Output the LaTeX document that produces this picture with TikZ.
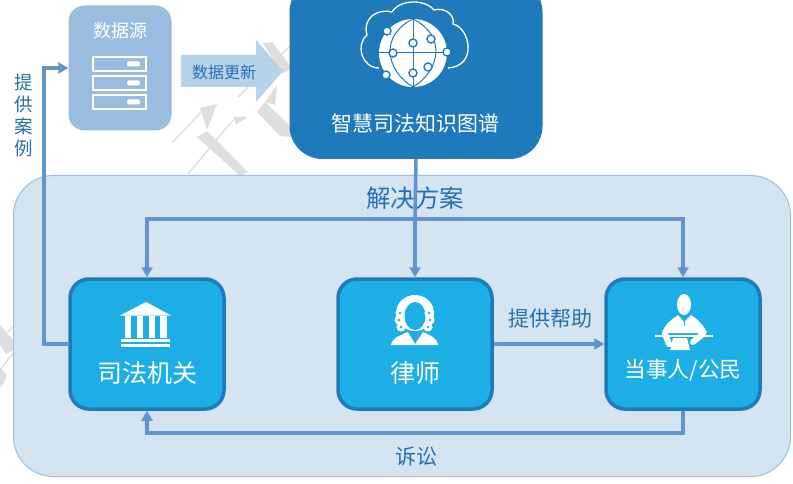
\documentclass[tikz,border=0pt]{standalone}
\usepackage{fontspec}
\setmainfont{Noto Sans CJK SC}
\usetikzlibrary{arrows.meta, positioning, calc}
\definecolor{diagPanel}{RGB}{213,228,241}
\definecolor{diagPanelEdge}{RGB}{157,190,221}
\definecolor{diagCard}{RGB}{28,174,228}
\definecolor{diagCardEdge}{RGB}{30,122,187}
\definecolor{diagSource}{RGB}{152,189,223}
\definecolor{diagGraph}{RGB}{30,122,187}
\definecolor{diagLine}{RGB}{98,148,206}
\definecolor{diagFat}{RGB}{183,211,234}
\definecolor{diagTitle}{RGB}{36,113,178}
\definecolor{diagMark}{RGB}{222,222,222}
\tikzset{
  % the three blue actors
  card/.style={
    draw=diagCardEdge, fill=diagCard, line width=3.5pt, rounded corners=19pt,
    minimum width=154pt, minimum height=130pt, inner sep=0pt
  },
  cardtext/.style={font=\fontsize{25}{25}\selectfont, text=white, inner sep=0pt},
  % connectors
  flow/.style={-{Triangle[length=10pt,width=11pt]}, draw=diagLine, line width=3.5pt},
  tag/.style={font=\fontsize{21}{21}\selectfont, text=diagTitle, inner sep=0pt},
  % watermark strokes behind everything
  wmark/.style={fill=diagMark, draw=none},
  wthin/.style={draw=diagMark, line width=1.4pt},
  iconfill/.style={fill=white, draw=none},
  iconline/.style={draw=white, line width=1.3pt, fill=none},
}
\begin{document}
\begin{tikzpicture}[x=1pt, y=-1pt]
\useasboundingbox (0,0) rectangle (793,484);

% ------------------------------- watermark ---------------------------------
\fill[wmark] (197,137) -- (207,131) -- (248,172) -- (240,176) -- cycle;
\fill[wmark] (200,108) -- (217,104) -- (207,130) -- cycle;
\fill[wmark] (233,117) -- (247,117) -- (236,125) -- cycle;
\draw[wthin] (172,143) -- (203,110);
\draw[wthin] (188,174) -- (233,120);
\fill[wmark] (263,43) -- (272,42) -- (292,68) -- (282,74) -- cycle;
\draw[wthin] (238,97) -- (292,44);
\fill[wmark] (257,112) -- (265,102) -- (292,128) -- (292,137) -- (280,136) -- cycle;
\fill[wmark] (265,102) -- (277,85) -- (275,105) -- cycle;
\fill[wmark] (0,325) -- (13,340) -- (13,350) -- (6,354) -- (0,345) -- cycle;
\fill[wmark] (0,368) -- (7,375) -- (2,387) -- (0,385) -- cycle;
\draw[wthin] (7,333) -- (14,326);
\draw[wthin] (0,370) -- (14,352);

% ------------------------------- solution panel ----------------------------
\node[draw=diagPanelEdge, fill=diagPanel, line width=1pt, rounded corners=40pt,
      minimum width=777pt, minimum height=301pt, inner sep=0pt] (panel) at (402,326) {};
\node[font=\fontsize{24.5}{24.5}\selectfont, text=diagTitle, inner sep=0pt] (title) at (415,198) {解决方案};

% ------------------------------- source and graph ---------------------------
\node[fill=diagSource, rounded corners=16pt, minimum width=103pt, minimum height=125pt,
      inner sep=0pt] (source) at (120,68) {};
\node[font=\fontsize{18}{18}\selectfont, text=white, inner sep=0pt] (sourcetext) at (120,31) {数据源};
\foreach \y in {57,76,95} {
  \draw[white, line width=2pt] (93,\y) rectangle (146,\y+14);
  \fill[white, rounded corners=2pt] (127,\y+4.5) rectangle (140,\y+9.5);
}

\node[fill=diagGraph, rounded corners=33pt, minimum width=253pt, minimum height=180pt,
      inner sep=0pt] (graph) at (416,69) {};
\node[font=\fontsize{21}{21}\selectfont, text=white, inner sep=0pt] (graphtext) at (415,123) {智慧司法知识图谱};

% cloud outline and globe
\draw[iconline] (379,68) .. controls (362,68) and (355,45) .. (367,35)
  .. controls (362,18) and (378,8) .. (392,12) .. controls (400,-1) and (425,-1) .. (434,10)
  .. controls (445,7) and (455,15) .. (453,24) .. controls (470,28) and (478,66) .. (448,68);
\node[circle, fill=white, minimum size=68pt, inner sep=0pt] (globe) at (413,53) {};
\draw[diagGraph, line width=1pt] (globe.west) -- (globe.east) (globe.north) -- (globe.south);
\draw[diagGraph, line width=1pt] (413,19) .. controls (380,35) and (385,70) .. (413,87);
\draw[diagGraph, line width=1pt] (413,19) .. controls (446,35) and (441,70) .. (413,87);
\foreach \x/\y in {387/31, 413/43, 431/39, 393/53, 447/52, 386/75, 413/73, 428/67} {
  \draw[fill=white, draw=diagGraph, line width=1.4pt] (\x,\y) circle (4pt);
}

\fill[diagFat] (181,55) -- (256,55) -- (256,40) -- (283,71) -- (256,102) -- (256,87) -- (181,87) -- cycle;
\node[font=\fontsize{16}{16}\selectfont, text=diagTitle, inner sep=0pt] (updatetext) at (224,72) {数据更新};

% ------------------------------- the three actors ---------------------------
\node[card] (court) at (147,344) {};
\node[card] (lawyer) at (415,344) {};
\node[card] (party) at (683,344) {};
\node[cardtext] (courttext) at (147,373) {司法机关};
\node[cardtext] (lawyertext) at (415,373) {律师};
\node[cardtext, font=\fontsize{21.7}{21.7}\selectfont] (partytext) at (683,370) {当事人/公民};

% court icon
\fill[iconfill] (120,315.5) -- (146,302) -- (171,315.5) -- cycle;
\foreach \x in {128,140,152,163.5} { \fill[iconfill] (\x-3.2,316) rectangle (\x+3.2,338); }
\fill[iconfill] (121,339) rectangle (170,342);
\fill[iconfill] (121,343.5) rectangle (170,347);

% lawyer icon
\fill[iconfill] (415,313) ellipse (19pt and 18pt);
\fill[diagCard] (415,316) ellipse (10.5pt and 14pt);
\foreach \x/\y in {400/313, 399/320, 401/327, 429/313, 430/320, 428/327} {
  \fill[iconfill] (\x,\y) circle (4.6pt);
  \fill[diagCard] (\x,\y) circle (1.4pt);
}
\fill[iconfill] (391,345) .. controls (392,337) and (402,335) .. (408,332)
  -- (415,344) -- (423,332) .. controls (429,335) and (437,337) .. (438,345) -- cycle;

% party icon
\fill[iconfill] (684,304.5) ellipse (7pt and 10.5pt);
\fill[iconfill] (662,333) .. controls (665,324) and (672,319) .. (678,315)
  -- (684,322) -- (691,315) .. controls (697,319) and (704,325) .. (707,333) -- cycle;
\fill[iconfill] (673,338) -- (687,338) -- (690,350) -- (670,350) -- cycle;
\draw[white, line width=6pt, line cap=round] (665,334) -- (669,344);
\draw[white, line width=6pt, line cap=round] (703,334) -- (693,342);
\draw[diagCard, line width=1pt] (684,320) -- (684,326);
\draw[white, line width=1.5pt] (655,336) -- (713,336);

% ------------------------------- connectors ---------------------------------
\coordinate (fork) at (415,219);
\draw[draw=diagLine, line width=3.5pt] (graph.south) -- (fork);
\draw[flow] (fork) -- (lawyer.north);
\draw[flow] (fork) -| (court.north);
\draw[flow] (fork) -| (party.north);
\draw[flow] (lawyer.east) -- (party.west);
\draw[flow] (party.south) |- (415,433) -| (court.south);
\draw[flow] (court.west) -- (44,344) |- (source.west);

\node[tag] (helptext) at (550,319) {提供帮助};
\node[tag] (suittext) at (416,457) {诉讼};
\node[font=\fontsize{18.5}{22}\selectfont, text=diagTitle, text width=18pt, align=center,
      inner sep=0pt] (casetext) at (24,115) {提\\供\\案\\例};

\end{tikzpicture}
\end{document}
